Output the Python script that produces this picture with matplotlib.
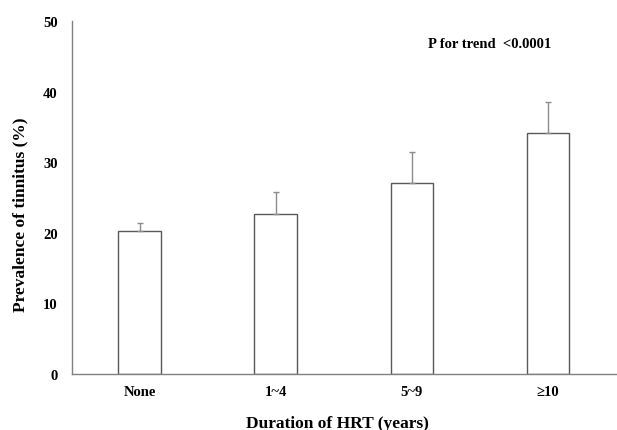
import matplotlib
matplotlib.use("Agg")
import matplotlib.pyplot as plt

categories = ["None", "1~4", "5~9", "≥10"]
values = [20.3, 22.6, 27.1, 34.1]
errors = [1.1, 3.2, 4.3, 4.4]
yticks = [0, 10, 20, 30, 40, 50]

plt.rcParams['font.family'] = ['Liberation Serif', 'DejaVu Serif']
plt.rcParams['font.weight'] = 'bold'

fig = plt.figure(figsize=(6.17, 4.31), dpi=100)
ax = fig.add_axes([71.5/617, 56/431, (616-71.5)/617, (375-22)/431])

x = range(len(categories))
ax.bar(x, values, width=0.312, color='white', edgecolor='#595959', linewidth=1.0, zorder=2)
ax.errorbar(x, values, yerr=[[0]*len(errors), errors], fmt='none', ecolor='#8c8c8c',
            elinewidth=1.0, capsize=2.5, capthick=1.0, zorder=3)

ax.set_xlim(-0.5, 3.5)
ax.set_ylim(0, 50)
ax.set_yticks(yticks)
ax.set_yticklabels([str(t) for t in yticks], fontsize=10.5, fontweight='bold')
ax.set_xticks(list(x))
ax.set_xticklabels(categories, fontsize=10.5, fontweight='bold')
ax.tick_params(axis='both', length=0)
ax.tick_params(axis='y', pad=10)
ax.tick_params(axis='x', pad=8)

for s in ['top', 'right']:
    ax.spines[s].set_visible(False)
for s in ['left', 'bottom']:
    ax.spines[s].set_color('#808080')
    ax.spines[s].set_linewidth(1.0)

fig.text(20/617, 1 - 215/431, "Prevalence of tinnitus (%)", rotation=90, ha='center', va='center',
         fontsize=12.5, fontweight='bold')
fig.text(337/617, 1 - 424/431, "Duration of HRT (years)", ha='center', va='center',
         fontsize=12.5, fontweight='bold')

ax.text(0.767, 0.935, "P for trend  <0.0001", transform=ax.transAxes, ha='center', va='center',
        fontsize=10.5, fontweight='bold')

fig.savefig("out.png", dpi=100, facecolor='white')
